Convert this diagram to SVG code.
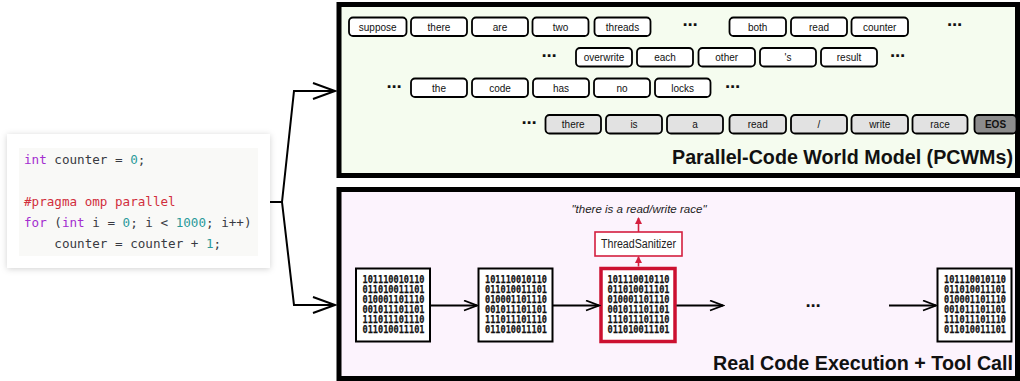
<svg xmlns="http://www.w3.org/2000/svg" width="1020" height="381" viewBox="0 0 1020 381">
<defs>
<style>
.panel{stroke:#000;stroke-width:5}
.tok rect{fill:#fff;stroke:#000;stroke-width:1.8}
.tok.g rect{fill:#e2e2e2}
.tok.eos rect{fill:#8c8c8c}
.tok text{font-family:"Liberation Sans","DejaVu Sans",sans-serif;font-size:10px;text-anchor:middle;fill:#111}
.tok.eos text{font-weight:bold}
.dots{font-family:"DejaVu Sans",sans-serif;font-size:15px;font-weight:bold;text-anchor:middle;fill:#111}
.code{font-family:"DejaVu Sans Mono",monospace;font-size:12.6px;fill:#383a42}
.kw{fill:#a42ed0}.pp{fill:#d12e3c}.num{fill:#2b9a9a}
.chip rect{fill:#fff;stroke:#000;stroke-width:2}
.chip.hot rect{stroke:#cc1030;stroke-width:3.5}
.chip text{font-family:"DejaVu Sans Mono",monospace;font-weight:bold;font-size:10px;fill:#111;stroke:#111;stroke-width:0.25}
.title{font-family:"Liberation Sans","DejaVu Sans",sans-serif;font-weight:bold;font-size:20px;fill:#111;text-anchor:end}
.conn{fill:none;stroke:#000;stroke-width:2}
.redline{fill:none;stroke:#d41f3f;stroke-width:1.6}
</style>
<marker id="bigArrow" markerUnits="userSpaceOnUse" markerWidth="26" markerHeight="20" refX="23" refY="9" orient="auto">
<path d="M1,1 L23,9 L1,17" fill="none" stroke="#000" stroke-width="2"/>
</marker>
<marker id="smallArrow" markerUnits="userSpaceOnUse" markerWidth="16" markerHeight="14" refX="14" refY="6" orient="auto">
<path d="M1,1 L14,6 L1,11" fill="none" stroke="#000" stroke-width="1.8"/>
</marker>
<marker id="redArrow" markerUnits="userSpaceOnUse" markerWidth="8" markerHeight="8" refX="6" refY="3.5" orient="auto">
<path d="M0,0 L7,3.5 L0,7 Z" fill="#d41f3f"/>
</marker>
<filter id="shadow" x="-10%" y="-15%" width="120%" height="130%">
<feDropShadow dx="0" dy="1" stdDeviation="3" flood-color="#000" flood-opacity="0.18"/>
</filter>
</defs>

<g id="code-card">
<rect x="7" y="134" width="263" height="134" fill="#fff" filter="url(#shadow)"/>
<rect x="19" y="148" width="239" height="108" fill="#f9f9f7"/>
<text class="code" x="24" y="164"><tspan class="kw">int</tspan> counter = <tspan class="num">0</tspan>;</text>
<text class="code pp" x="24" y="206">#pragma omp parallel</text>
<text class="code" x="24" y="227"><tspan class="kw">for</tspan> (<tspan class="kw">int</tspan> i = <tspan class="num">0</tspan>; i &lt; <tspan class="num">1000</tspan>; i++)</text>
<text class="code" x="24" y="248" xml:space="preserve">    counter = counter + <tspan class="num">1</tspan>;</text>
</g>

<g id="pcwm-panel">
<rect class="panel" x="339" y="4.5" width="678.5" height="171" fill="#f5fcef"/>
<text class="title" x="1013" y="163.5" textLength="341" lengthAdjust="spacingAndGlyphs">Parallel-Code World Model (PCWMs)</text>
</g>

<g id="tokens-row1">
<g class="tok"><rect x="349" y="17.5" width="57.5" height="18.5" rx="4"/><text x="377.7" y="30.5">suppose</text></g>
<g class="tok"><rect x="411" y="17.5" width="56" height="18.5" rx="4"/><text x="439" y="30.5">there</text></g>
<g class="tok"><rect x="472" y="17.5" width="56" height="18.5" rx="4"/><text x="500" y="30.5">are</text></g>
<g class="tok"><rect x="532.5" y="17.5" width="56" height="18.5" rx="4"/><text x="560.5" y="30.5">two</text></g>
<g class="tok"><rect x="594.5" y="17.5" width="56" height="18.5" rx="4"/><text x="622.5" y="30.5">threads</text></g>
<text class="dots" x="690" y="30">⋯</text>
<g class="tok"><rect x="729.5" y="17.5" width="56.5" height="18.5" rx="4"/><text x="757.7" y="30.5">both</text></g>
<g class="tok"><rect x="791" y="17.5" width="56" height="18.5" rx="4"/><text x="819" y="30.5">read</text></g>
<g class="tok"><rect x="851.5" y="17.5" width="56.5" height="18.5" rx="4"/><text x="879.7" y="30.5">counter</text></g>
<text class="dots" x="954.5" y="30">⋯</text>
</g>

<g id="tokens-row2">
<text class="dots" x="549" y="61">⋯</text>
<g class="tok"><rect x="576" y="48" width="56" height="18.5" rx="4"/><text x="604" y="61">overwrite</text></g>
<g class="tok"><rect x="637" y="48" width="56" height="18.5" rx="4"/><text x="665" y="61">each</text></g>
<g class="tok"><rect x="698.5" y="48" width="56.5" height="18.5" rx="4"/><text x="726.7" y="61">other</text></g>
<g class="tok"><rect x="760" y="48" width="56" height="18.5" rx="4"/><text x="788" y="61">'s</text></g>
<g class="tok"><rect x="821" y="48" width="56" height="18.5" rx="4"/><text x="849" y="61">result</text></g>
<text class="dots" x="897.5" y="61">⋯</text>
</g>

<g id="tokens-row3">
<text class="dots" x="394" y="91.5">⋯</text>
<g class="tok"><rect x="411" y="78.5" width="56" height="18.5" rx="4"/><text x="439" y="91.5">the</text></g>
<g class="tok"><rect x="472" y="78.5" width="56" height="18.5" rx="4"/><text x="500" y="91.5">code</text></g>
<g class="tok"><rect x="533" y="78.5" width="56" height="18.5" rx="4"/><text x="561" y="91.5">has</text></g>
<g class="tok"><rect x="594" y="78.5" width="56" height="18.5" rx="4"/><text x="622" y="91.5">no</text></g>
<g class="tok"><rect x="655" y="78.5" width="55.5" height="18.5" rx="4"/><text x="682.7" y="91.5">locks</text></g>
<text class="dots" x="732.5" y="91.5">⋯</text>
</g>

<g id="tokens-row4">
<text class="dots" x="529" y="128">⋯</text>
<g class="tok g"><rect x="545.5" y="115" width="55.5" height="18.5" rx="4"/><text x="573.2" y="128">there</text></g>
<g class="tok g"><rect x="606" y="115" width="56" height="18.5" rx="4"/><text x="634" y="128">is</text></g>
<g class="tok g"><rect x="667" y="115" width="56" height="18.5" rx="4"/><text x="695" y="128">a</text></g>
<g class="tok g"><rect x="729.5" y="115" width="56.5" height="18.5" rx="4"/><text x="757.7" y="128">read</text></g>
<g class="tok g"><rect x="791" y="115" width="56" height="18.5" rx="4"/><text x="819" y="128">/</text></g>
<g class="tok g"><rect x="851.5" y="115" width="56.5" height="18.5" rx="4"/><text x="879.7" y="128">write</text></g>
<g class="tok g"><rect x="912.5" y="115" width="55" height="18.5" rx="4"/><text x="940" y="128">race</text></g>
<g class="tok eos"><rect x="974.5" y="115" width="42" height="18.5" rx="4"/><text x="995.5" y="128">EOS</text></g>
</g>

<g id="exec-panel">
<rect class="panel" x="339" y="189.5" width="678.5" height="189" fill="#fcf3fd"/>
<text class="title" x="1013" y="369.5" textLength="300" lengthAdjust="spacingAndGlyphs">Real Code Execution + Tool Call</text>
</g>

<g id="chip1" class="chip">
<rect x="356" y="268.5" width="74" height="73"/>
<text x="362.5" y="283" textLength="62" lengthAdjust="spacingAndGlyphs">101110010110</text>
<text x="362.5" y="293" textLength="62" lengthAdjust="spacingAndGlyphs">011010011101</text>
<text x="362.5" y="303" textLength="62" lengthAdjust="spacingAndGlyphs">010001101110</text>
<text x="362.5" y="313" textLength="62" lengthAdjust="spacingAndGlyphs">001011101101</text>
<text x="362.5" y="323" textLength="62" lengthAdjust="spacingAndGlyphs">111011101110</text>
<text x="362.5" y="333" textLength="62" lengthAdjust="spacingAndGlyphs">011010011101</text>
</g>
<g id="chip2" class="chip">
<rect x="478.5" y="268.5" width="74" height="73"/>
<text x="485" y="283" textLength="62" lengthAdjust="spacingAndGlyphs">101110010110</text>
<text x="485" y="293" textLength="62" lengthAdjust="spacingAndGlyphs">011010011101</text>
<text x="485" y="303" textLength="62" lengthAdjust="spacingAndGlyphs">010001101110</text>
<text x="485" y="313" textLength="62" lengthAdjust="spacingAndGlyphs">001011101101</text>
<text x="485" y="323" textLength="62" lengthAdjust="spacingAndGlyphs">111011101110</text>
<text x="485" y="333" textLength="62" lengthAdjust="spacingAndGlyphs">011010011101</text>
</g>
<g id="chip3" class="chip hot">
<rect x="601" y="268.5" width="74" height="73"/>
<text x="607.5" y="283" textLength="62" lengthAdjust="spacingAndGlyphs">101110010110</text>
<text x="607.5" y="293" textLength="62" lengthAdjust="spacingAndGlyphs">011010011101</text>
<text x="607.5" y="303" textLength="62" lengthAdjust="spacingAndGlyphs">010001101110</text>
<text x="607.5" y="313" textLength="62" lengthAdjust="spacingAndGlyphs">001011101101</text>
<text x="607.5" y="323" textLength="62" lengthAdjust="spacingAndGlyphs">111011101110</text>
<text x="607.5" y="333" textLength="62" lengthAdjust="spacingAndGlyphs">011010011101</text>
</g>
<g id="chip4" class="chip">
<rect x="937.5" y="268.5" width="74" height="73"/>
<text x="944" y="283" textLength="62" lengthAdjust="spacingAndGlyphs">101110010110</text>
<text x="944" y="293" textLength="62" lengthAdjust="spacingAndGlyphs">011010011101</text>
<text x="944" y="303" textLength="62" lengthAdjust="spacingAndGlyphs">010001101110</text>
<text x="944" y="313" textLength="62" lengthAdjust="spacingAndGlyphs">001011101101</text>
<text x="944" y="323" textLength="62" lengthAdjust="spacingAndGlyphs">111011101110</text>
<text x="944" y="333" textLength="62" lengthAdjust="spacingAndGlyphs">011010011101</text>
</g>

<g id="tsan">
<rect x="595" y="232" width="87" height="24" fill="#fff" stroke="#d41f3f" stroke-width="1.6"/>
<text x="638.5" y="248" font-family="Liberation Sans, DejaVu Sans, sans-serif" font-size="12" text-anchor="middle" fill="#222" textLength="75" lengthAdjust="spacingAndGlyphs">ThreadSanitizer</text>
</g>
<g id="tsan-output">
<text x="639" y="213" font-family="Liberation Sans, DejaVu Sans, sans-serif" font-style="italic" font-size="11" text-anchor="middle" fill="#222" textLength="135" lengthAdjust="spacingAndGlyphs">"there is a read/write race"</text>
</g>
<g id="exec-dots">
<text class="dots" x="813" y="311" font-size="18">⋯</text>
</g>

<g id="connectors">
<polyline class="conn" points="270,202 282,202 294,91 335,91" marker-end="url(#bigArrow)"/>
<polyline class="conn" points="282,202 294,305 335,305" marker-end="url(#bigArrow)"/>
<line class="conn" x1="430" y1="305.5" x2="477" y2="305.5" marker-end="url(#smallArrow)"/>
<line class="conn" x1="552.5" y1="305.5" x2="599" y2="305.5" marker-end="url(#smallArrow)"/>
<line class="conn" x1="676.5" y1="305.5" x2="723" y2="305.5" marker-end="url(#smallArrow)"/>
<line class="conn" x1="889" y1="305.5" x2="936" y2="305.5" marker-end="url(#smallArrow)"/>
<line class="redline" x1="638.5" y1="266.5" x2="638.5" y2="257" marker-end="url(#redArrow)"/>
<line class="redline" x1="638.5" y1="232" x2="638.5" y2="218" marker-end="url(#redArrow)"/>
</g>
</svg>
